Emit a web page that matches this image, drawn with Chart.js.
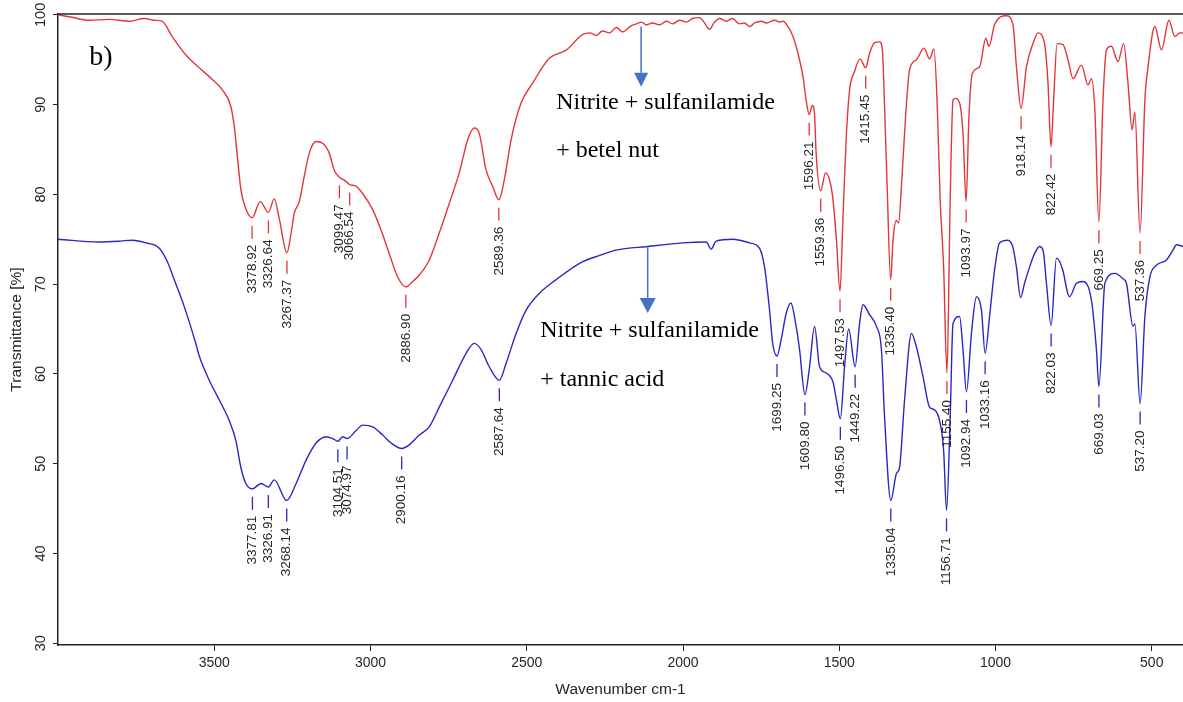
<!DOCTYPE html>
<html>
<head>
<meta charset="utf-8">
<title>FTIR b)</title>
<script src="https://cdn.jsdelivr.net/npm/chart.js@4.4.0/dist/chart.umd.min.js"></script>
<style>
  html, body { margin: 0; padding: 0; background: #fff; }
</style>
</head>
<body>
<canvas id="ftir" width="1183" height="702"></canvas>
<script>
// tick labels
const xTicks = [3500, 3000, 2500, 2000, 1500, 1000, 500];
const yTicks = [30, 40, 50, 60, 70, 80, 90, 100];

// Nitrite + sulfanilamide + betel nut (red)
const betelWavenumber = [
  4000, 3964, 3900, 3836, 3772, 3724, 3692, 3667, 3635, 3590, 3548, 3506, 3473, 3447, 3436, 3425, 3415, 3399,
  3378.92, 3353, 3326.64, 3308, 3292, 3267.37, 3254, 3244, 3228, 3212, 3196, 3174, 3153, 3132, 3116,
  3099.47, 3084, 3066.54, 3046, 3025, 2993, 2966, 2940, 2913, 2886.90, 2865, 2844, 2812, 2780, 2748, 2716,
  2689, 2668, 2652, 2630, 2609, 2589.36, 2572, 2550, 2518, 2481, 2449, 2427, 2373, 2322, 2299, 2277, 2258,
  2235, 2213, 2194, 2165, 2149, 2133, 2117, 2098, 2075, 2053, 2034, 2011, 1989, 1970, 1947, 1931, 1915,
  1899, 1883, 1861, 1842, 1819, 1803, 1787, 1771, 1749, 1733, 1707, 1691, 1680, 1664, 1648, 1632, 1616,
  1606, 1596.21, 1586, 1579, 1574, 1559.36, 1544, 1531, 1520, 1509, 1497.53, 1488, 1478, 1467, 1451, 1433,
  1415.45, 1403, 1387, 1371, 1362, 1355, 1347, 1335.40, 1328, 1317, 1310, 1301, 1291, 1275, 1253, 1229,
  1211, 1197, 1187, 1177, 1166, 1155.40, 1145, 1136, 1128, 1115, 1104, 1093.97, 1085, 1074, 1051, 1031,
  1021, 1003, 965, 944, 933, 918.14, 901, 880, 864, 843, 832, 822.42, 814, 803, 784, 768, 752, 725, 704,
  693, 682, 669.25, 656, 645, 629, 608, 590, 576, 563, 554, 537.36, 522, 512, 490, 469, 445, 426, 410, 400
];
const betelTransmittance = [
  100.0, 99.8, 99.4, 99.5, 99.3, 99.6, 99.4, 99.3, 97.6, 95.5, 94.1, 92.8, 91.6, 89.8, 87.6, 83.9, 80.6, 78.4,
  77.4, 79.2, 78.0, 79.5, 77.3, 73.5, 75.7, 77.9, 79.2, 82.0, 84.6, 85.9, 85.7, 84.6, 82.7,
  81.9, 81.6, 81.1, 80.9, 80.1, 78.3, 76.0, 73.4, 70.8, 69.7, 70.3, 71.0, 72.7, 75.7, 79.0, 82.4,
  86.1, 87.4, 86.8, 82.7, 80.9, 79.4, 81.6, 86.1, 90.2, 92.4, 94.2, 95.2, 96.1, 97.8, 98.0, 97.7, 98.2,
  98.0, 98.6, 98.1, 98.8, 99.0, 99.2, 98.9, 99.1, 98.9, 99.3, 99.0, 99.4, 99.2, 99.6, 99.7, 99.1, 98.4,
  99.2, 99.6, 99.3, 99.6, 99.0, 99.1, 98.7, 99.1, 99.3, 99.1, 99.4, 99.2, 99.3, 98.7, 97.6, 95.7, 93.1,
  90.5, 88.9, 89.9, 88.9, 84.6, 80.4, 82.4, 81.6, 79.4, 74.9, 69.2, 77.5, 86.1, 91.6, 93.7, 95.1,
  94.1, 95.7, 96.9, 97.0, 96.1, 89.8, 81.2, 70.5, 74.9, 77.1, 76.8, 80.9, 86.8, 93.9, 95.0, 96.3,
  95.1, 96.2, 90.5, 79.4, 71.9, 60.1, 79.4, 90.5, 90.7, 90.2, 86.8, 79.2, 88.7, 93.5, 94.2, 97.4,
  96.5, 98.9, 99.9, 98.9, 94.2, 89.6, 94.2, 96.8, 98.0, 96.8, 92.4, 85.3, 90.5, 96.8, 96.7, 95.0, 92.9, 94.4, 92.2,
  92.9, 89.4, 76.9, 90.5, 96.1, 96.5, 94.8, 96.8, 92.4, 87.2, 89.2, 75.7, 90.5, 94.2, 98.7, 96.1, 99.4, 97.6, 98.0, 98.0
];
const betelPeaks = [3378.92, 3326.64, 3267.37, 3099.47, 3066.54, 2886.90, 2589.36, 1596.21, 1559.36, 1497.53,
  1415.45, 1335.40, 1155.40, 1093.97, 918.14, 822.42, 669.25, 537.36];

// Nitrite + sulfanilamide + tannic acid (blue)
const tannicWavenumber = [
  4000, 3868, 3800, 3763, 3718, 3676, 3650, 3628, 3596, 3560, 3548, 3516, 3484, 3452, 3431, 3415, 3399,
  3377.81, 3350, 3326.91, 3308, 3268.14, 3238, 3206, 3174, 3142, 3121, 3104.51, 3089, 3074.97, 3046, 3025,
  2993, 2961, 2934, 2900.16, 2876, 2844, 2812, 2780, 2737, 2694, 2668, 2646, 2620, 2587.64, 2566, 2534,
  2502, 2459, 2406, 2321, 2267, 2214, 2113, 2001, 1926, 1910, 1894, 1841, 1787, 1755, 1739, 1723, 1713,
  1699.25, 1686, 1670, 1655, 1638, 1627, 1609.80, 1595, 1579, 1563, 1542, 1520, 1509, 1496.50, 1483, 1470,
  1449.22, 1435, 1424, 1403, 1381, 1365, 1355, 1335.04, 1317, 1307, 1291, 1269, 1253, 1232, 1211, 1195,
  1179, 1166, 1156.71, 1145, 1136, 1115, 1104, 1092.94, 1077, 1061, 1045, 1033.16, 1019, 1003, 987, 961,
  945, 933, 920, 907, 891, 875, 859, 848, 837, 822.03, 805, 785, 769, 763, 741, 720, 693, 677, 669.03,
  650, 618, 592, 581, 560, 554, 537.20, 522, 506, 485, 453, 432, 421, 400
];
const tannicTransmittance = [
  75.0, 74.7, 74.8, 74.9, 74.6, 74.0, 72.5, 70.5, 67.5, 63.5, 62.0, 59.3, 57.1, 54.8, 52.6, 49.6, 47.8,
  47.2, 47.8, 47.4, 48.2, 45.9, 47.8, 50.4, 52.3, 53.0, 52.8, 52.5, 53.0, 52.8, 53.7, 54.3,
  54.1, 53.2, 52.3, 51.7, 52.1, 53.2, 54.1, 56.3, 59.3, 62.3, 63.4, 62.7, 60.8, 59.3, 61.2, 64.5,
  67.1, 69.0, 70.5, 72.5, 73.2, 73.8, 74.2, 74.6, 74.7, 73.9, 74.8, 75.0, 74.6, 74.0, 71.9, 67.1, 63.4,
  62.0, 63.8, 66.7, 67.9, 65.3, 62.7, 57.7, 60.8, 65.3, 60.8, 60.1, 59.1, 57.1, 55.0, 60.8, 65.0,
  60.8, 65.6, 67.7, 66.6, 65.3, 62.7, 55.2, 45.9, 48.9, 49.6, 57.1, 64.5, 63.0, 59.7, 56.3, 56.0,
  54.8, 51.5, 44.8, 55.2, 65.6, 66.4, 62.7, 58.0, 64.5, 68.6, 67.1, 62.3, 66.4, 71.6, 74.6, 74.9,
  74.2, 71.9, 68.5, 70.1, 71.9, 73.4, 74.2, 73.8, 70.1, 65.4, 72.9, 71.6, 69.0, 68.6, 70.1, 70.3, 68.2, 62.7, 58.6,
  70.1, 71.2, 70.6, 70.1, 65.3, 65.6, 56.7, 66.4, 70.8, 72.1, 72.7, 73.8, 74.4, 74.2
];
const tannicPeaks = [3377.81, 3326.91, 3268.14, 3104.51, 3074.97, 2900.16, 2587.64, 1699.25, 1609.80, 1496.50,
  1449.22, 1335.04, 1156.71, 1092.94, 1033.16, 822.03, 669.03, 537.20];

const seriesPeaks = [betelPeaks, tannicPeaks];

let toPoints = (xs, ys) => xs.map((x, i) => ({ x: x, y: ys[i] }));

const sansFont = '"Liberation Sans", Arial, sans-serif';
const serifFont = '"Liberation Serif", "Times New Roman", serif';
const inkColor = '#262626';
const arrowColor = '#4472C4';

// top border of the plot box
const frameTop = {
  id: 'frameTop',
  afterDraw(chart) {
    const { ctx, chartArea } = chart;
    ctx.save();
    ctx.strokeStyle = '#222';
    ctx.lineWidth = 1.5;
    ctx.beginPath();
    ctx.moveTo(chartArea.left, chartArea.top);
    ctx.lineTo(chartArea.right, chartArea.top);
    ctx.stroke();
    ctx.restore();
  }
};

// rotated y tick labels
const yLabels = {
  id: 'yLabels',
  afterDraw(chart) {
    const ctx = chart.ctx;
    const yScale = chart.scales.y;
    ctx.save();
    ctx.fillStyle = inkColor;
    ctx.font = '14.5px ' + sansFont;
    ctx.textAlign = 'center';
    ctx.textBaseline = 'middle';
    yScale.ticks.forEach(t => {
      ctx.save();
      ctx.translate(yScale.right - 17, yScale.getPixelForValue(t.value));
      ctx.rotate(-Math.PI / 2);
      ctx.fillText(String(t.value), 0, 0);
      ctx.restore();
    });
    ctx.restore();
  }
};

// dash + rotated wavenumber under every labelled peak
const peakLabels = {
  id: 'peakLabels',
  afterDatasetsDraw(chart) {
    const ctx = chart.ctx;
    chart.data.datasets.forEach((ds, i) => {
      const meta = chart.getDatasetMeta(i);
      seriesPeaks[i].forEach(wn => {
        const idx = ds.data.findIndex(p => p.x === wn);
        if (idx < 0) return;
        const pt = meta.data[idx];
        ctx.save();
        ctx.strokeStyle = ds.borderColor;
        ctx.lineWidth = 1.3;
        ctx.beginPath();
        ctx.moveTo(pt.x, pt.y + 8);
        ctx.lineTo(pt.x, pt.y + 21);
        ctx.stroke();
        ctx.translate(pt.x, pt.y + 27);
        ctx.rotate(-Math.PI / 2);
        ctx.fillStyle = inkColor;
        ctx.font = '13.5px ' + sansFont;
        ctx.textAlign = 'right';
        ctx.textBaseline = 'middle';
        ctx.fillText(wn.toFixed(2), 0, 0);
        ctx.restore();
      });
    });
  }
};

let drawArrow = (ctx, x, yTop, yTip, headLen, halfW) => {
  ctx.beginPath();
  ctx.moveTo(x, yTop);
  ctx.lineTo(x, yTip - headLen);
  ctx.stroke();
  ctx.beginPath();
  ctx.moveTo(x - halfW, yTip - headLen);
  ctx.lineTo(x + halfW, yTip - headLen);
  ctx.lineTo(x, yTip);
  ctx.closePath();
  ctx.fill();
}

// panel letter, sample names and arrows
const notes = {
  id: 'notes',
  afterDraw(chart) {
    const ctx = chart.ctx;
    const xs = chart.scales.x, ys = chart.scales.y;
    const px = v => xs.getPixelForValue(v);
    const py = v => ys.getPixelForValue(v);
    ctx.save();
    ctx.fillStyle = '#000';
    ctx.textAlign = 'left';
    ctx.textBaseline = 'alphabetic';
    ctx.font = '28px ' + serifFont;
    ctx.fillText('b)', px(3900), py(94.4));
    ctx.font = '24px ' + serifFont;
    ctx.fillText('Nitrite + sulfanilamide', px(2406), py(89.5));
    ctx.fillText('+ betel nut', px(2406), py(84.2));
    ctx.fillText('Nitrite + sulfanilamide', px(2457), py(64.1));
    ctx.fillText('+ tannic acid', px(2457), py(58.6));
    ctx.strokeStyle = arrowColor;
    ctx.fillStyle = arrowColor;
    ctx.lineWidth = 1.5;
    drawArrow(ctx, px(2134), py(98.7), py(92.0), 14, 7);
    drawArrow(ctx, px(2113), py(74.2), py(66.8), 15, 8);
    ctx.restore();
  }
};

const ctx = document.getElementById('ftir').getContext('2d');

new Chart(ctx, {
  type: 'line',
  data: {
    datasets: [{
      label: 'Nitrite + sulfanilamide + betel nut',
      data: toPoints(betelWavenumber, betelTransmittance),
      borderColor: 'rgb(226, 54, 58)',
      borderWidth: 1.4,
      pointRadius: 0,
      fill: false,
      cubicInterpolationMode: 'monotone'
    }, {
      label: 'Nitrite + sulfanilamide + tannic acid',
      data: toPoints(tannicWavenumber, tannicTransmittance),
      borderColor: 'rgb(40, 40, 196)',
      borderWidth: 1.4,
      pointRadius: 0,
      fill: false,
      cubicInterpolationMode: 'monotone'
    }]
  },
  options: {
    responsive: false,
    animation: false,
    events: [],
    layout: { padding: { top: 14, right: 0, bottom: 0, left: 0 } },
    plugins: {
      legend: { display: false },
      tooltip: { enabled: false }
    },
    scales: {
      x: {
        type: 'linear',
        reverse: true,
        min: 400,
        max: 4000,
        afterBuildTicks: (scale) => { scale.ticks = xTicks.map(v => ({ value: v })); },
        afterFit: (scale) => { scale.height = 57; },
        grid: { drawOnChartArea: false, drawTicks: true, tickLength: 6, color: '#222', lineWidth: 1 },
        border: { display: true, color: '#222', width: 1.5 },
        ticks: {
          color: inkColor,
          font: { family: sansFont, size: 14 },
          padding: 4,
          maxRotation: 0,
          callback: (value) => String(value)
        },
        title: {
          display: true,
          text: 'Wavenumber cm-1',
          color: inkColor,
          font: { family: sansFont, size: 15.5 },
          padding: { top: 0, bottom: 3 }
        }
      },
      y: {
        type: 'linear',
        min: 29.8,
        max: 100.1,
        afterBuildTicks: (scale) => { scale.ticks = yTicks.map(v => ({ value: v })); },
        afterFit: (scale) => { scale.width = 58; },
        grid: { drawOnChartArea: false, drawTicks: true, tickLength: 5, color: '#222', lineWidth: 1 },
        border: { display: true, color: '#222', width: 1.5 },
        ticks: { display: false },
        title: {
          display: true,
          text: 'Transmittance [%]',
          color: inkColor,
          font: { family: sansFont, size: 15.5 },
          padding: { top: 7, bottom: 0 }
        }
      }
    }
  },
  plugins: [frameTop, yLabels, peakLabels, notes]
});
</script>
</body>
</html>
